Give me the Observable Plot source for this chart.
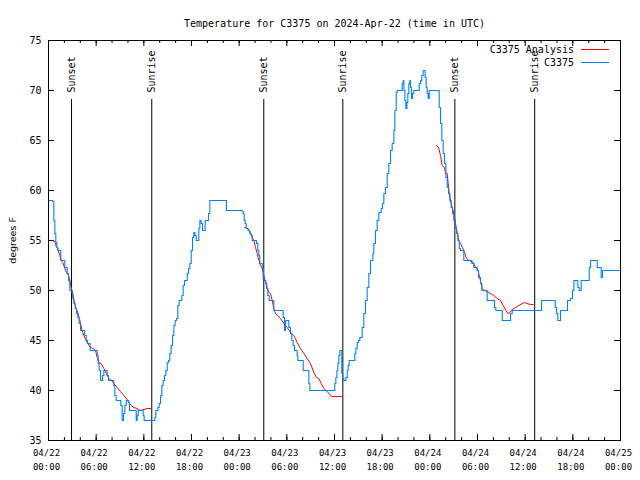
<!DOCTYPE html>
<html>
<head>
<meta charset="utf-8">
<script src="https://cdn.jsdelivr.net/npm/d3@7"></script>
<script src="https://cdn.jsdelivr.net/npm/@observablehq/plot@0.6"></script>
<style>
  body { margin: 0; background: #fff; }
</style>
</head>
<body>
<div id="chart"></div>
<script>
// ---- Data (hours after 2024-04-22 00:00 UTC, temperatures in °F) ----
const titleText = "Temperature for C3375 on 2024-Apr-22 (time in UTC)";
const yLabel = "degrees F";
const seriesNames = ["C3375 Analysis", "C3375"];
const seriesColors = ["#ff0000", "#0080ff"];

const obsHours = [
  0, 0.55, 0.67, 0.80, 0.92, 1.05, 1.17, 1.55, 2.06, 2.35, 2.52, 2.69, 2.98, 3.06, 3.19, 3.36, 3.52, 3.69, 3.86, 4.03,
  4.57, 4.74, 4.91, 5.24, 6.13, 6.25, 6.38, 6.55, 6.80, 6.97, 7.38, 7.55, 8.22, 8.35, 8.52, 9.10, 9.27, 9.44, 9.61, 9.78,
  10.07, 10.20, 11.04, 11.16, 11.29, 11.92, 12.04, 13.39, 13.51, 13.76, 13.93, 14.10, 14.27, 14.43, 14.60, 14.77, 14.94, 15.11, 15.27, 15.44,
  15.61, 15.78, 15.94, 16.11, 16.28, 16.45, 16.78, 16.95, 17.12, 17.46, 17.62, 17.79, 17.96, 18.13, 18.29, 18.42, 18.59, 18.92, 19.05, 19.22,
  19.39, 19.72, 20.14, 20.31, 22.40, 24.38, 24.51, 24.63, 24.76, 24.88, 25.13, 25.34, 25.51, 25.64, 26.18, 26.35, 26.48, 26.60, 26.90, 27.02,
  27.19, 27.36, 27.48, 27.61, 27.78, 28.36, 29.54, 29.71, 29.83, 30.25, 30.46, 30.63, 30.80, 30.97, 31.30, 31.39, 32.06, 32.77, 32.90, 36.04,
  36.17, 36.30, 36.42, 36.55, 36.67, 36.92, 37.05, 37.18, 37.43, 37.60, 37.72, 37.85, 38.56, 38.69, 38.86, 39.02, 39.19, 39.27, 39.48, 39.69,
  39.90, 40.11, 40.32, 40.53, 40.83, 40.95, 41.16, 41.37, 41.58, 41.88, 42.04, 42.21, 42.42, 42.63, 42.84, 43.05, 43.26, 43.47, 43.60, 43.77,
  43.89, 44.52, 44.65, 44.73, 44.86, 44.98, 45.11, 45.23, 45.36, 45.48, 45.57, 45.69, 45.82, 45.99, 46.66, 46.83, 46.99, 47.16, 47.41, 47.54,
  47.67, 47.79, 47.92, 48.09, 49.18, 49.35, 49.51, 49.68, 49.85, 50.02, 50.19, 50.35, 50.52, 50.69, 50.86, 51.02, 51.19, 51.36, 51.53, 51.70,
  51.86, 52.28, 53.29, 53.54, 53.96, 54.13, 54.38, 54.55, 55.22, 56.14, 56.31, 57.11, 58.16, 58.37, 62.06, 63.78, 63.95, 64.11, 64.45, 65.33,
  65.71, 65.96, 66.13, 66.63, 66.80, 67.05, 68.06, 68.23, 69.07, 69.57, 69.74, 72.0
];
const obsTemps = [
  59.0, 58.9, 57.0, 55.7, 54.8, 54.3, 54.0, 53.0, 52.3, 51.7, 51.0, 50.0, 49.7, 49.2, 48.7, 48.2, 47.7, 47.3, 46.7, 46.0,
  45.5, 45.0, 44.7, 44.0, 43.5, 42.7, 42.0, 41.0, 41.5, 42.0, 41.5, 41.0, 40.5, 39.5, 39.0, 38.5, 37.0, 37.7, 38.5, 39.0,
  38.8, 38.0, 37.0, 37.5, 38.0, 37.5, 37.0, 37.3, 38.0, 38.3, 38.7, 39.5, 40.5, 41.0, 41.5, 42.0, 42.8, 43.0, 43.7, 44.5,
  45.5, 46.5, 47.0, 47.2, 48.5, 49.0, 49.5, 50.5, 51.0, 51.7, 52.2, 52.7, 54.0, 55.3, 55.8, 55.5, 55.0, 56.2, 57.0, 56.7,
  56.0, 57.0, 57.7, 59.0, 58.0, 57.9, 57.7, 57.0, 56.7, 56.2, 56.0, 55.7, 55.5, 55.0, 54.7, 54.0, 53.5, 52.7, 52.2, 51.2,
  51.0, 50.7, 50.2, 49.5, 49.0, 48.0, 47.3, 46.0, 47.0, 46.3, 45.7, 45.0, 44.5, 44.0, 43.5, 43.0, 42.0, 40.7, 40.0, 40.7,
  41.3, 42.0, 42.7, 43.5, 44.0, 41.7, 41.2, 41.0, 41.3, 42.0, 42.5, 43.0, 43.7, 44.2, 44.8, 45.0, 45.3, 45.3, 46.3, 47.7,
  49.0, 50.3, 51.7, 53.0, 53.7, 54.7, 56.0, 57.0, 57.8, 58.2, 58.7, 59.7, 60.3, 61.7, 62.7, 64.0, 64.7, 66.0, 68.0, 69.8,
  70.0, 70.7, 71.0, 70.0, 69.0, 68.2, 68.8, 69.7, 70.7, 71.0, 70.3, 69.2, 69.7, 70.0, 70.7, 71.0, 71.5, 72.0, 71.3, 70.3,
  69.7, 69.2, 70.0, 70.0, 68.3, 66.7, 65.0, 63.7, 62.7, 61.3, 60.3, 59.7, 59.0, 58.3, 57.7, 57.0, 56.2, 55.7, 55.0, 54.2,
  54.0, 53.0, 52.7, 52.3, 52.0, 51.3, 50.7, 50.0, 49.0, 48.3, 48.0, 47.0, 47.7, 48.0, 49.0, 48.3, 47.7, 47.0, 48.0, 49.0,
  49.2, 50.0, 51.0, 50.3, 50.0, 51.0, 52.3, 53.0, 52.3, 51.3, 52.0, 52.0
];

const anaHours = [
  0.46, 0.84, 0.97, 1.17, 1.43, 1.59, 1.80, 2.01, 2.27, 2.52, 2.69, 2.85, 3.06, 3.19, 3.44, 3.69, 3.86, 4.03, 4.24, 4.45,
  4.66, 4.95, 5.29, 5.62, 5.92, 6.13, 6.34, 6.63, 6.97, 7.30, 7.59, 7.93, 8.22, 8.64, 9.06, 9.48, 9.82, 10.11, 10.41, 10.74,
  11.16, 11.58, 12.00, 12.42, 12.97,
  24.67, 25.01, 25.22, 25.43, 25.64, 25.85, 26.06, 26.27, 26.48, 26.69, 26.90, 27.11, 27.32, 27.53, 27.74, 27.95, 28.16, 28.36, 28.57, 28.87,
  29.20, 29.62, 30.04, 30.46, 30.88, 31.30, 31.72, 32.14, 32.56, 32.98, 33.40, 33.74, 34.03, 34.32, 34.66, 35.08, 35.50, 35.71, 36.97,
  48.84, 49.09, 49.35, 49.55, 49.85, 49.97, 50.19, 50.31, 50.44, 50.60, 50.81, 51.02, 51.23, 51.44, 51.65, 51.86, 52.11, 52.37, 52.62, 52.91,
  53.33, 53.54, 53.75, 54.04, 54.30, 54.59, 54.88, 55.22, 55.64, 56.06, 56.48, 56.90, 57.23, 57.57, 57.82, 58.07, 58.37, 58.79, 59.21, 59.63,
  59.92, 60.25, 60.67, 61.01
];
const anaTemps = [
  55.0, 54.9, 54.4, 54.2, 53.5, 53.0, 52.8, 52.3, 51.8, 51.5, 51.0, 50.3, 49.7, 49.0, 48.3, 47.8, 47.3, 46.7, 46.0, 45.5,
  45.1, 44.7, 44.3, 44.2, 44.0, 43.3, 42.8, 42.7, 42.2, 41.7, 41.2, 41.0, 40.7, 40.3, 39.9, 39.5, 39.2, 38.8, 38.5, 38.3,
  38.2, 38.0, 38.1, 38.2, 38.2,
  56.3, 56.2, 56.0, 55.7, 55.3, 55.0, 54.3, 53.7, 53.0, 52.5, 52.2, 51.5, 50.8, 50.2, 49.8, 49.7, 49.0, 48.2, 47.7, 47.5,
  47.2, 46.7, 46.3, 45.8, 45.5, 44.8, 44.2, 43.7, 43.2, 42.7, 41.8, 41.3, 41.2, 40.7, 40.2, 39.9, 39.5, 39.4, 39.4,
  64.5, 64.3, 63.5, 62.5, 62.3, 61.7, 61.7, 60.7, 59.7, 59.0, 58.3, 57.7, 56.7, 55.8, 55.0, 54.7, 54.3, 53.8, 53.2, 53.0,
  52.9, 52.7, 52.3, 52.1, 51.2, 50.2, 50.0, 49.9, 49.7, 49.5, 49.2, 49.0, 48.5, 48.0, 47.7, 47.8, 48.1, 48.3, 48.5, 48.7,
  48.8, 48.7, 48.6, 48.6
];
const anaRunLengths = [45, 39, 44];

const sunLabels = ["Sunset", "Sunrise", "Sunset", "Sunrise", "Sunset", "Sunrise"];
const sunHours = [2.9, 13.0, 27.1, 37.05, 51.15, 61.2];

const yTickValues = [35, 40, 45, 50, 55, 60, 65, 70, 75];

// ---- Build tables ----
const t0 = Date.UTC(2024, 3, 22);
const toDate = h => new Date(t0 + h * 3600e3);
const obs = obsHours.map((h, i) => ({t: toDate(h), v: obsTemps[i]}));
const anaRun = anaRunLengths.flatMap((n, k) => Array(n).fill(k));
const ana = anaHours.map((h, i) => ({t: toDate(h), v: anaTemps[i], run: anaRun[i]}));
const sun = sunHours.map((h, i) => ({t: toDate(h), label: sunLabels[i]}));

const W = 640, H = 480, ML = 48, MR = 20, MT = 40, MB = 40;
const PW = W - ML - MR, PH = H - MT - MB;
const xDomain = [toDate(0), toDate(72)];
const majorTicks = d3.utcHour.every(6).range(xDomain[0], new Date(+xDomain[1] + 1));
const minorTicks = d3.utcHour.every(2).range(xDomain[0], new Date(+xDomain[1] + 1));
const mono = "'DejaVu Sans Mono', monospace";

const chart = Plot.plot({
  width: W, height: H,
  marginLeft: ML, marginRight: MR, marginTop: MT, marginBottom: MB,
  style: {fontFamily: mono, fontSize: "9px", color: "black", background: "white"},
  x: {type: "utc", domain: xDomain},
  y: {domain: [35, 75]},
  marks: [
    // tick marks (inward, mirrored)
    Plot.ruleX(minorTicks, {stroke: "black", insetTop: PH - 3}),
    Plot.ruleX(minorTicks, {stroke: "black", insetBottom: PH - 3}),
    Plot.ruleX(majorTicks, {stroke: "black", insetTop: PH - 6}),
    Plot.ruleX(majorTicks, {stroke: "black", insetBottom: PH - 6}),
    Plot.ruleY(yTickValues, {stroke: "black", insetRight: PW - 6}),
    Plot.ruleY(yTickValues, {stroke: "black", insetLeft: PW - 6}),
    Plot.axisX({ticks: majorTicks, tickSize: 0, tickPadding: 9, tickFormat: d3.utcFormat("%m/%d"), label: null, fontSize: 9, dx: -2}),
    Plot.axisX({ticks: majorTicks, tickSize: 0, tickPadding: 23, tickFormat: d3.utcFormat("%H:%M"), label: null, fontSize: 9, dx: -2}),
    Plot.axisY({ticks: yTickValues, tickSize: 0, tickPadding: 7, label: null, fontSize: 10}),
    Plot.text([yLabel], {frameAnchor: "left", textAnchor: "middle", dx: -36, rotate: -90, fontSize: 9.5, fontFamily: "'DejaVu Sans', sans-serif"}),
    Plot.text([titleText], {frameAnchor: "top", dy: -21, fontSize: 10}),
    // sunrise / sunset markers
    Plot.ruleX(sun, {x: "t", stroke: "black", insetTop: 59}),
    Plot.text(sun, {x: "t", text: "label", frameAnchor: "top", rotate: -90, textAnchor: "start", dy: 52, dx: -4, fontSize: 10}),
    // series
    Plot.line(ana, {x: "t", y: "v", z: "run", stroke: seriesColors[0], strokeWidth: 1}),
    Plot.line(obs, {x: "t", y: "v", curve: "step-after", stroke: seriesColors[1], strokeWidth: 1.1}),
    Plot.frame({stroke: "black"})
  ]
});

// legend (top-right, inside the frame)
const svg = d3.select(chart);
const legend = svg.append("g").attr("font-family", mono).attr("font-size", 10);
seriesNames.forEach((name, i) => {
  const y = MT + 9.5 + i * 13;
  legend.append("text").attr("x", W - MR - 46).attr("y", y).attr("text-anchor", "end")
    .attr("dominant-baseline", "middle").attr("fill", "black").text(name);
  legend.append("line").attr("x1", W - MR - 39).attr("x2", W - MR - 11)
    .attr("y1", y).attr("y2", y).attr("stroke", seriesColors[i]).attr("stroke-width", 1);
});

document.getElementById("chart").appendChild(chart);
</script>
</body>
</html>
